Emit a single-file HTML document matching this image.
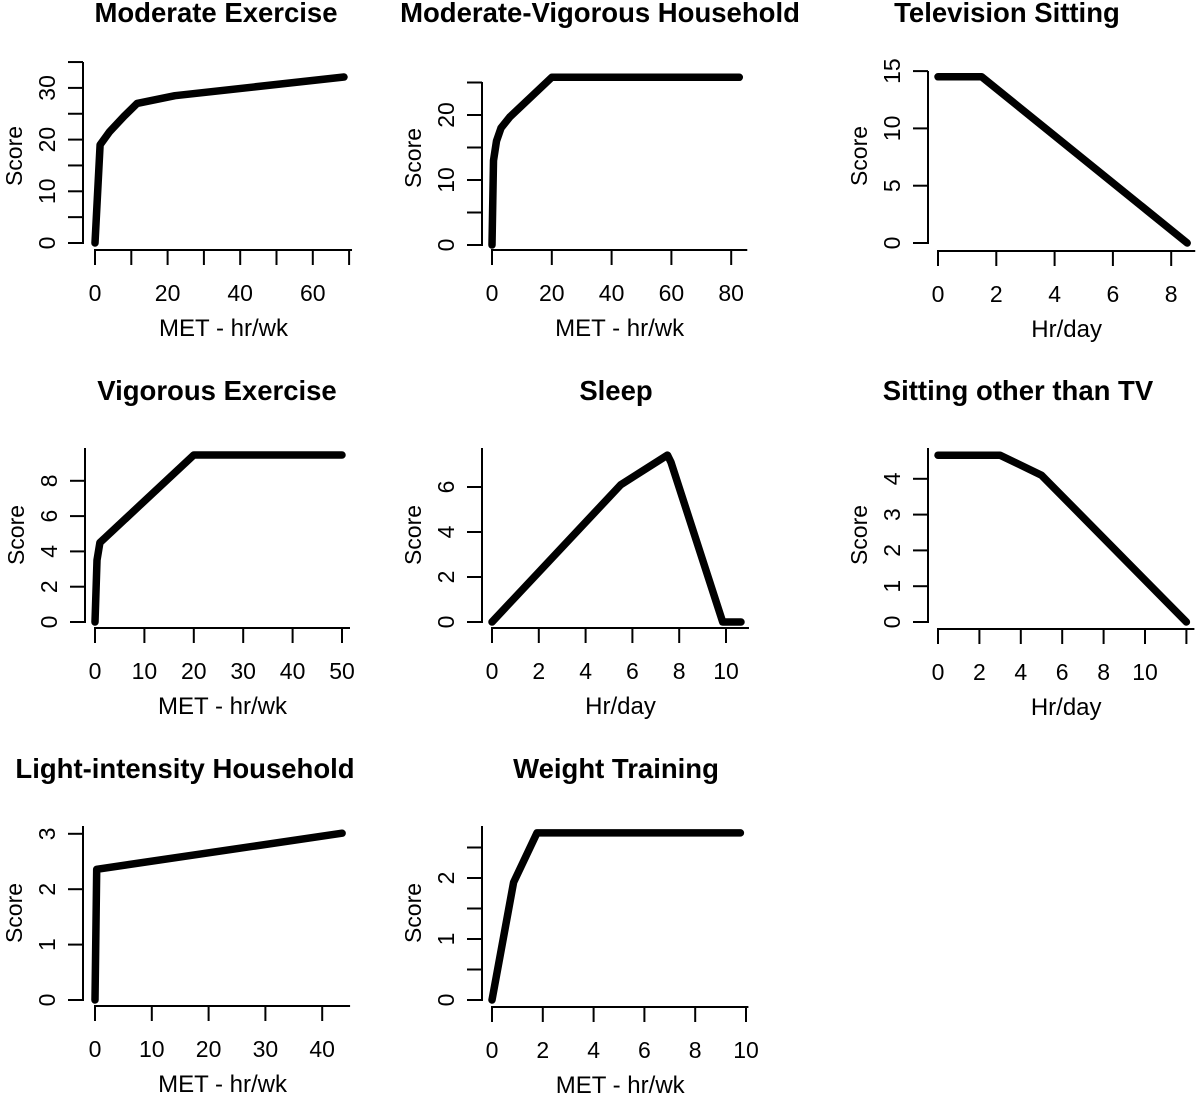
<!DOCTYPE html>
<html><head><meta charset="utf-8"><style>
html,body{margin:0;padding:0;background:#fff;}
svg{display:block;font-family:"Liberation Sans",Arial,sans-serif;}
</style></head><body>
<svg id="c" width="1200" height="1094" viewBox="0 0 1200 1094" xmlns="http://www.w3.org/2000/svg"></svg>
<script>
// Panel data
const titles = ["Moderate Exercise","Moderate-Vigorous Household","Television Sitting","Vigorous Exercise","Sleep","Sitting other than TV","Light-intensity Household","Weight Training"];
const xLabels = ["MET - hr/wk","MET - hr/wk","Hr/day","MET - hr/wk","Hr/day","Hr/day","MET - hr/wk","MET - hr/wk"];
const xTicks = [[0,10,20,30,40,50,60,70],[0,20,40,60,80],[0,2,4,6,8],[0,10,20,30,40,50],[0,2,4,6,8,10],[0,2,4,6,8,10,12],[0,10,20,30,40],[0,2,4,6,8,10]];
const xTickLabels = [[0,20,40,60],[0,20,40,60,80],[0,2,4,6,8],[0,10,20,30,40,50],[0,2,4,6,8,10],[0,2,4,6,8,10],[0,10,20,30,40],[0,2,4,6,8,10]];
const yTicks = [[0,5,10,15,20,25,30,35],[0,5,10,15,20,25],[0,5,10,15],[0,2,4,6,8],[0,2,4,6],[0,1,2,3,4],[0,1,2,3],[0,0.5,1,1.5,2,2.5]];
const yTickLabels = [[0,10,20,30],[0,10,20],[0,5,10,15],[0,2,4,6,8],[0,2,4,6],[0,1,2,3,4],[0,1,2,3],[0,1,2]];
const seriesX = [
 [0,1.4,4,8,11.6,22,68.6],
 [0,0.5,1.5,3,6,20,82.7],
 [0,1.5,8.55],
 [0,0.4,1,20,50],
 [0,5.5,7.5,7.65,9.86,10.64],
 [0,3,5,12],
 [0,0.3,43.5],
 [0,0.85,1.77,9.78]
];
const seriesY = [
 [0,19,21.5,24.5,27,28.5,32.1],
 [0,13,16,18,19.7,25.8,25.8],
 [14.5,14.5,0],
 [0,3.5,4.5,9.46,9.46],
 [0,6.1,7.42,7.1,0,0],
 [4.66,4.66,4.1,0],
 [0,2.36,3.01],
 [0,1.93,2.74,2.74]
];
// Layout (scale anchors)
const layout = [
 {ax:83, axTop:62, x0:95, xk:10, xp:36.3, y0:243, yk:10, yp:51.7, xaxis:250, cx:216, ty:22},
 {ax:482, axTop:82, x0:492, xk:20, xp:59.8, y0:245, yk:10, yp:65, xaxis:250, cx:600, ty:22},
 {ax:928, axTop:71, x0:938, xk:2, xp:58.3, y0:243, yk:5, yp:57.3, xaxis:251, cx:1007, ty:22},
 {ax:85, axTop:448, x0:95, xk:10, xp:49.4, y0:622, yk:2, yp:35.3, xaxis:628, cx:217, ty:400},
 {ax:482, axTop:448, x0:492, xk:2, xp:46.8, y0:622, yk:2, yp:45, xaxis:628, cx:616, ty:400},
 {ax:928, axTop:448, x0:938, xk:2, xp:41.4, y0:622, yk:1, yp:35.8, xaxis:629, cx:1018, ty:400},
 {ax:83, axTop:826, x0:95, xk:10, xp:56.8, y0:1000, yk:1, yp:55.4, xaxis:1006, cx:185, ty:778},
 {ax:482, axTop:826, x0:492, xk:2, xp:50.8, y0:1000, yk:1, yp:61, xaxis:1007, cx:616, ty:778}
];
const NS="http://www.w3.org/2000/svg";
const svg=document.getElementById('c');
function mk(tag,attrs,parent){const e=document.createElementNS(NS,tag);for(const k in attrs)e.setAttribute(k,attrs[k]);(parent||svg).appendChild(e);return e;}
titles.forEach((t,i)=>{
 const L=layout[i];
 const sx=v=>L.x0+v*L.xp/L.xk;
 const sy=v=>L.y0-v*L.yp/L.yk;
 const g=mk('g',{});
 
 
 const tt=mk('text',{x:L.cx,y:L.ty,'text-anchor':'middle','font-size':27.5,'font-weight':'bold',fill:'#000'},g);
 tt.textContent=t;
 
 
 // y axis
 const yt=yTicks[i];
 const ya=mk('line',{x1:L.ax,x2:L.ax,y1:sy(yt[0])+1,y2:L.axTop,stroke:'#000','stroke-width':2},g);
 
 
 yt.forEach(v=>{
  mk('line',{x1:L.ax-15,x2:L.ax,y1:sy(v),y2:sy(v),stroke:'#000','stroke-width':2},g);
 });
 yTickLabels[i].forEach(v=>{
  const lb=mk('text',{x:0,y:0,transform:`translate(${L.ax-28},${sy(v)}) rotate(-90)`,'text-anchor':'middle','font-size':23,fill:'#000'},g);
  lb.textContent=v;
  
  
 });
 const yl=mk('text',{x:0,y:0,transform:`translate(${L.ax-61},${L.y0-87}) rotate(-90)`,'text-anchor':'middle','font-size':23,fill:'#000'},g);
 yl.textContent='Score';
 
 
 // x axis
 const xt=xTicks[i];
 const xEnd=Math.max(sx(xt[xt.length-1]), sx(seriesX[i][seriesX[i].length-1])+8);
 const xa=mk('line',{x1:sx(xt[0])-1,x2:xEnd,y1:L.xaxis,y2:L.xaxis,stroke:'#000','stroke-width':2},g);
 
 
 xt.forEach(v=>{
  mk('line',{x1:sx(v),x2:sx(v),y1:L.xaxis,y2:L.xaxis+15,stroke:'#000','stroke-width':2},g);
 });
 xTickLabels[i].forEach(v=>{
  const lb=mk('text',{x:sx(v),y:L.xaxis+51,'text-anchor':'middle','font-size':23,fill:'#000'},g);
  lb.textContent=v;
  
  
 });
 const xl=mk('text',{x:(sx(xt[0])+xEnd)/2,y:L.xaxis+86,'text-anchor':'middle','font-size':24,fill:'#000'},g);
 xl.textContent=xLabels[i];
 
 
 // series line
 const pts=seriesX[i].map((x,j)=>sx(x).toFixed(1)+','+sy(seriesY[i][j]).toFixed(1)).join(' ');
 const pl=mk('polyline',{points:pts,fill:'none',stroke:'#000','stroke-width':7.5,'stroke-linejoin':'round','stroke-linecap':'round'},g);
 
 
});
</script>
</body></html>
